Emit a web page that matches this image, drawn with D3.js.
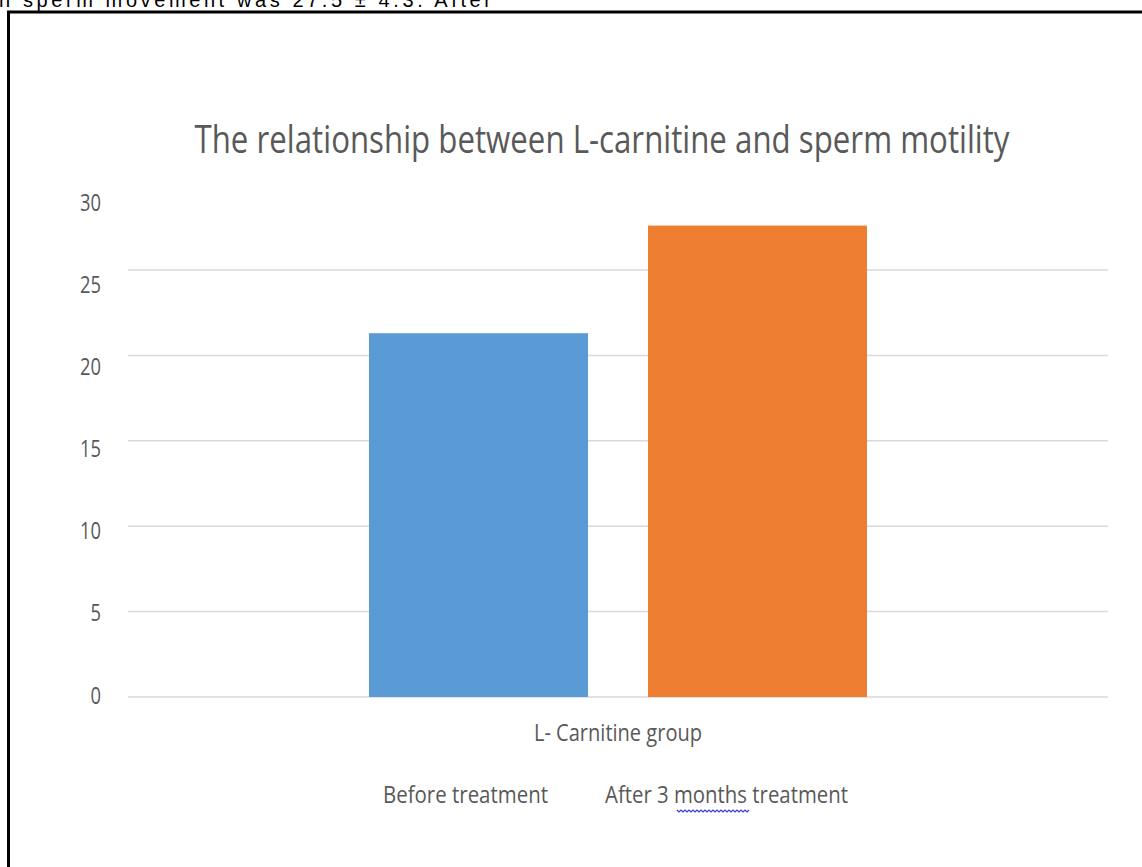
<!DOCTYPE html>
<html>
<head>
<meta charset="utf-8">
<script src="https://cdn.jsdelivr.net/npm/d3@7/dist/d3.min.js"></script>
<style>
  html, body { margin: 0; padding: 0; background: #fff; }
  svg { display: block; }
</style>
</head>
<body>
<svg id="chart" width="1142" height="867"></svg>
<script>
// Data
const categories = ["L- Carnitine group"];
const seriesNames = ["Before treatment", "After 3 months treatment"];
const seriesValues = [21.3, 27.6];
const yTicks = [0, 5, 10, 15, 20, 25, 30];
const gridTicks = [0, 5, 10, 15, 20, 25];
const colors = ["#5b9bd5", "#ed7d31"];

const svg = d3.select("#chart");
const fontFamily = "'Open Sans', 'Noto Sans', sans-serif";
const textGrey = "#595959";

// Running text from the page above the figure, clipped by the top edge
svg.append("text")
  .attr("x", -9).attr("y", 7)
  .attr("font-family", "'Liberation Sans', Arial, sans-serif")
  .attr("font-size", 20)
  .attr("fill", "#000")
  .attr("textLength", 500)
  .attr("lengthAdjust", "spacing")
  .text("in sperm movement was 27.5 ± 4.3. After");

// Figure frame
svg.append("rect")
  .attr("x", 8.5).attr("y", 12)
  .attr("width", 1200).attr("height", 900)
  .attr("fill", "none")
  .attr("stroke", "#000")
  .attr("stroke-width", 3);

// Scales
const y = d3.scaleLinear().domain([0, 30]).range([697, 184.6]);
const yLabel = d3.scaleLinear().domain([0, 30]).range([695, 202]);

const x0 = d3.scaleBand().domain(categories).range([128, 1108])
  .paddingInner(0).paddingOuter(0.484);
const x1 = d3.scaleBand().domain(seriesNames).range([0, x0.bandwidth()])
  .paddingInner(0.215).paddingOuter(0);

// Gridlines
svg.append("g").selectAll("line").data(gridTicks).join("line")
  .attr("x1", 128).attr("x2", 1108)
  .attr("y1", d => y(d)).attr("y2", d => y(d))
  .attr("stroke", "#d9d9d9")
  .attr("stroke-width", 1.5);

// Y tick labels
svg.append("g").selectAll("text").data(yTicks).join("text")
  .attr("x", 101)
  .attr("y", d => yLabel(d))
  .attr("dy", "0.36em")
  .attr("text-anchor", "end")
  .attr("font-family", fontFamily)
  .attr("font-size", 24)
  .attr("fill", textGrey)
  .attr("textLength", d => String(d).length * 10.5)
  .attr("lengthAdjust", "spacingAndGlyphs")
  .text(d => d);

// Bars
svg.append("g").selectAll("rect").data(seriesValues.map((v, i) => ({ v, i })))
  .join("rect")
  .attr("x", d => x0(categories[0]) + x1(seriesNames[d.i]))
  .attr("width", x1.bandwidth())
  .attr("y", d => y(d.v))
  .attr("height", d => y(0) - y(d.v))
  .attr("fill", d => colors[d.i]);

// Title
svg.append("text")
  .attr("x", 602).attr("y", 153)
  .attr("text-anchor", "middle")
  .attr("font-family", fontFamily)
  .attr("font-size", 39)
  .attr("fill", textGrey)
  .attr("textLength", 815)
  .attr("lengthAdjust", "spacingAndGlyphs")
  .text("The relationship between L-carnitine and sperm motility");

// Category label
svg.append("text")
  .attr("x", x0(categories[0]) + x0.bandwidth() / 2)
  .attr("y", 741)
  .attr("text-anchor", "middle")
  .attr("font-family", fontFamily)
  .attr("font-size", 23)
  .attr("fill", textGrey)
  .attr("textLength", 168)
  .attr("lengthAdjust", "spacingAndGlyphs")
  .text(categories[0]);

// Legend
const legendX = [383, 605];
const legendW = [165, 243];
svg.append("g").selectAll("text").data(seriesNames).join("text")
  .attr("x", (d, i) => legendX[i])
  .attr("y", 803)
  .attr("font-family", fontFamily)
  .attr("font-size", 23)
  .attr("fill", textGrey)
  .attr("textLength", (d, i) => legendW[i])
  .attr("lengthAdjust", "spacingAndGlyphs")
  .text(d => d);

// Spell-check squiggle under "months"
const wave = d3.path();
const wx0 = 677, wx1 = 749, wy = 810;
wave.moveTo(wx0, wy);
for (let wx = wx0, k = 0; wx < wx1; wx += 2, k++) {
  wave.lineTo(wx + 2, wy + (k % 2 === 0 ? 2 : 0));
}
svg.append("path")
  .attr("d", wave.toString())
  .attr("fill", "none")
  .attr("stroke", "#3b3bd6")
  .attr("stroke-width", 1.2);
</script>
</body>
</html>
